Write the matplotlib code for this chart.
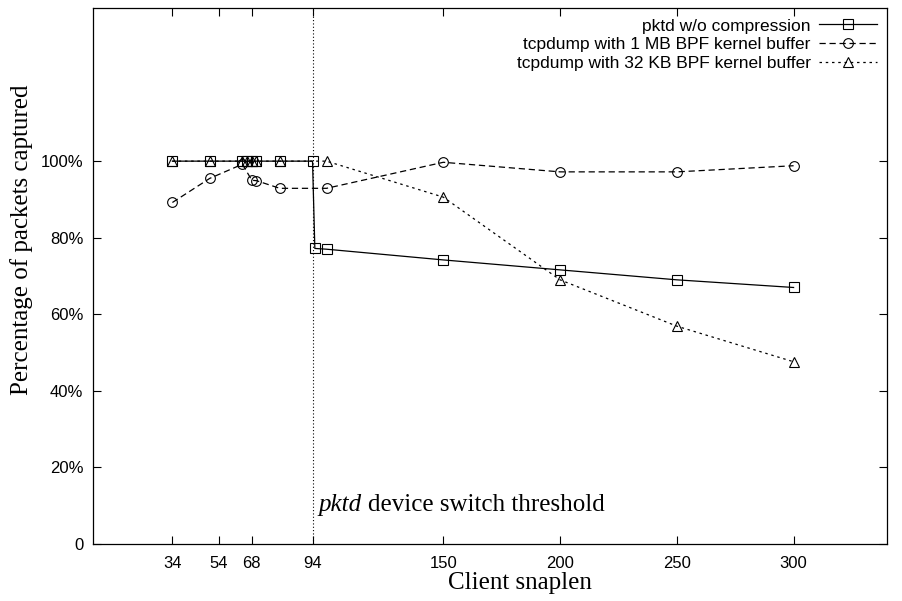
import matplotlib
matplotlib.use("Agg")
import matplotlib.pyplot as plt

pktd_x = [34, 50, 64, 66, 68, 70, 80, 94, 95, 100, 150, 200, 250, 300]
pktd_y = [100, 100, 100, 100, 100, 100, 100, 100, 77.2, 77.0, 74.2, 71.6, 69.0, 67.0]

bpf1m_x = [34, 50, 64, 68, 70, 80, 100, 150, 200, 250, 300]
bpf1m_y = [89.2, 95.5, 99.2, 95.0, 94.9, 92.9, 92.9, 99.7, 97.2, 97.2, 98.8]

bpf32k_x = [34, 50, 64, 66, 68, 70, 80, 100, 150, 200, 250, 300]
bpf32k_y = [100, 100, 100, 100, 100, 100, 100, 100, 90.6, 69.0, 56.9, 47.6]

xticks = [34, 54, 68, 94, 150, 200, 250, 300]
yticks = [0, 20, 40, 60, 80, 100]
threshold = 94

fig = plt.figure(figsize=(9.02, 6.01), dpi=100)
ax = fig.add_axes([93/902, (601-544)/601, (887-93)/902, (544-8)/601])

sans = "Liberation Sans"
serif = "Liberation Serif"

ax.plot(pktd_x, pktd_y, color="black", lw=0.9, ls="-", marker="s", ms=7,
        mfc="none", mec="black", mew=0.8, label="pktd w/o compression")
ax.plot(bpf1m_x, bpf1m_y, color="black", lw=0.9, ls=(0, (5, 3)), marker="o", ms=7,
        mfc="none", mec="black", mew=0.8, label="tcpdump with 1 MB BPF kernel buffer")
ax.plot(bpf32k_x, bpf32k_y, color="black", lw=0.9, ls=(0, (2, 3)), marker="^", ms=7,
        mfc="none", mec="black", mew=0.8, label="tcpdump with 32 KB BPF kernel buffer")

ax.axvline(threshold, color="black", lw=0.8, ls=(0, (1, 2)))
ax.set_xlim(0, 340)
ax.set_ylim(0, 140)

t1 = ax.text(96.5, 8.5, "pktd", family=serif, style="italic", fontsize=18, va="baseline")
ax.annotate("device switch threshold", xy=(1, 8.5), xycoords=(t1, "data"),
            xytext=(5, 0), textcoords="offset points",
            family=serif, fontsize=18, va="baseline", ha="left")

ax.set_xticks(xticks)
ax.set_xticklabels([str(v) for v in xticks], family=sans, fontsize=12)
ax.set_yticks(yticks)
ax.set_yticklabels(["0"] + [f"{v}%" for v in yticks[1:]], family=sans, fontsize=12)
ax.tick_params(axis="x", direction="in", top=True, length=6, width=0.8, pad=9)
ax.tick_params(axis="y", direction="in", right=True, length=6, width=0.8, pad=7)
for s in ax.spines.values():
    s.set_linewidth(0.9)

ax.set_xlabel("Client snaplen", family=serif, fontsize=18)
ax.set_ylabel("Percentage of packets captured", family=serif, fontsize=18)
ax.xaxis.set_label_coords(0.538, -0.052, transform=ax.transAxes)
ax.yaxis.set_label_coords(-0.075, 0.567, transform=ax.transAxes)

leg = ax.legend(loc="upper right", frameon=False, markerfirst=False,
                prop={"family": sans, "size": 12.5}, handlelength=3.3,
                labelspacing=0.2, borderaxespad=0.3, handletextpad=0.5,
                borderpad=0.3)

fig.savefig("out.png", dpi=100)
